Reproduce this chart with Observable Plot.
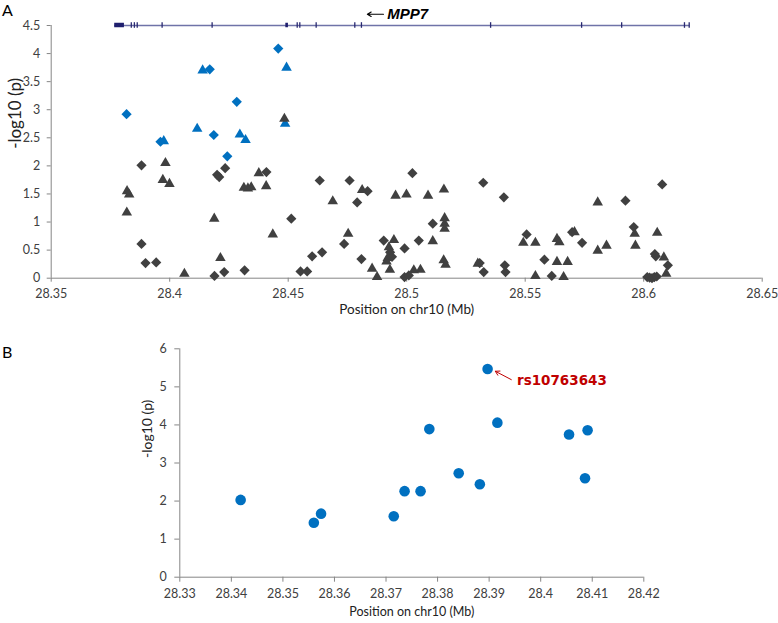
<!DOCTYPE html>
<html>
<head>
<meta charset="utf-8">
<script src="https://cdn.jsdelivr.net/npm/d3@7"></script>
<script src="https://cdn.jsdelivr.net/npm/@observablehq/plot@0.6"></script>
<style>
  html, body { margin: 0; padding: 0; background: #fff; }
  #wrap { position: relative; width: 778px; height: 623px; overflow: hidden; background: #fff; font-family: Lato, "Open Sans", sans-serif; }
  .panel { position: absolute; left: 0; }
  .letter { position: absolute; font-family: Lato, sans-serif; font-size: 16px; color: #000; line-height: 20px; }
  svg { overflow: visible; }
</style>
</head>
<body>
<div id="wrap">
  <div class="letter" style="left:2px; top:0px;">A</div>
  <div class="letter" style="left:2px; top:342px;">B</div>
  <div id="pa" class="panel" style="top:0px;"></div>
  <div id="pb" class="panel" style="top:320px;"></div>
</div>
<script>
// ---------------- Panel A data ----------------
const blueDiamonds = [[28.3818,2.92],[28.4458,4.09],[28.4169,3.72],[28.4283,3.14],[28.4186,2.55],[28.3961,2.43],[28.4243,2.17]];
const blueTriangles = [[28.4139,3.70],[28.4116,2.66],[28.4493,3.75],[28.4487,2.75],[28.4296,2.56],[28.4320,2.46],[28.3975,2.44]];
const blackDiamonds = [
  [28.3881,2.01],[28.4200,1.84],[28.4209,1.80],[28.4234,1.96],[28.4408,1.89],[28.3881,0.61],[28.3898,0.27],
  [28.3943,0.28],[28.4189,0.04],[28.4230,0.11],[28.4316,0.14],[28.4633,1.74],[28.4759,1.74],[28.5024,1.87],
  [28.4791,1.35],[28.4835,1.55],[28.4513,1.06],[28.4736,0.61],[28.4601,0.39],[28.4643,0.46],[28.4552,0.12],
  [28.4580,0.12],[28.4809,0.34],[28.4903,0.67],[28.4930,0.46],[28.4938,0.38],[28.4991,0.53],[28.5051,0.67],
  [28.4991,0.02],[28.5009,0.05],[28.5323,1.70],[28.5410,1.44],[28.5110,0.97],[28.5308,0.27],[28.5325,0.11],
  [28.5414,0.23],[28.5417,0.11],[28.5506,0.78],[28.5581,0.33],[28.5612,0.04],[28.5698,0.82],[28.5740,0.63],
  [28.5923,1.38],[28.6078,1.67],[28.5958,0.91],[28.6047,0.43],[28.6051,0.39],[28.6102,0.23],
  [28.6015,0.02],[28.6025,0.01],[28.6035,0.00],[28.6045,0.02],[28.6055,0.03]
];
const blackTriangles = [
  [28.4484,2.84],[28.3982,2.05],[28.3971,1.75],[28.3999,1.68],[28.3820,1.55],[28.3829,1.49],[28.3819,1.17],
  [28.4376,1.87],[28.4313,1.61],[28.4330,1.60],[28.4344,1.62],[28.4407,1.64],[28.4188,1.06],[28.4062,0.08],
  [28.4214,0.36],[28.4435,0.78],[28.4688,1.37],[28.4812,1.57],[28.4953,1.47],[28.4999,1.49],[28.5090,1.47],
  [28.5157,1.58],[28.4753,0.79],[28.4854,0.17],[28.4875,0.02],[28.4946,0.68],[28.4925,0.55],[28.4920,0.36],
  [28.4915,0.30],[28.4929,0.15],[28.5058,0.15],[28.5030,0.14],[28.5160,1.07],[28.5160,0.97],[28.5160,0.88],
  [28.5110,0.66],[28.5156,0.32],[28.5164,0.24],[28.5300,0.26],[28.5492,0.63],[28.5543,0.63],[28.5543,0.04],
  [28.5662,0.02],[28.5634,0.70],[28.5644,0.64],[28.5634,0.29],[28.5679,0.29],[28.5708,0.82],[28.5806,1.35],
  [28.5806,0.49],[28.5843,0.58],[28.5962,0.79],[28.5965,0.58],[28.6057,0.81],[28.6085,0.37],[28.6095,0.08]
];
const xTicksA = [28.35, 28.4, 28.45, 28.5, 28.55, 28.6, 28.65];
const yTicksA = [0, 0.5, 1, 1.5, 2, 2.5, 3, 3.5, 4, 4.5];
// gene track (MPP7) at the top of panel A
const geneSpan = [[28.3768, 28.6195, 4.5]];
const geneExons = [28.3838, 28.3851, 28.3863, 28.3968, 28.4179, 28.4538, 28.4549, 28.4618, 28.4781, 28.4809, 28.5354, 28.5738, 28.5907, 28.6172, 28.6192];
const geneBlocks = [[28.3768, 28.3809], [28.4490, 28.4501]];
const geneArrow = [[28.4902, 28.4834, 4.70]];
const geneLabel = [[28.4918, 4.70, "MPP7"]];

// ---------------- Panel B data ----------------
const pointsB = [
  [28.3418,2.03],[28.3560,1.43],[28.3574,1.67],[28.3715,1.60],[28.3736,2.26],[28.3767,2.26],[28.3784,3.89],
  [28.3841,2.73],[28.3882,2.44],[28.3897,5.47],[28.3916,4.06],[28.4055,3.75],[28.4086,2.60],[28.4091,3.86]
];
const xTicksB = [28.33, 28.34, 28.35, 28.36, 28.37, 28.38, 28.39, 28.4, 28.41, 28.42];
const yTicksB = [0, 1, 2, 3, 4, 5, 6];
const annotArrow = [[28.3943, 5.19, 28.3912, 5.41]];
const annotLabel = [[28.3954, 5.17, "rs10763643"]];

const fmt = d => String(+d.toFixed(2));
const AX = "#868686", TXT = "#404040", BLUE = "#0070c0", DARK = "#404040";

const chartA = Plot.plot({
  width: 778, height: 320,
  marginLeft: 50.7, marginRight: 16.3, marginTop: 25, marginBottom: 42.3,
  x: {domain: [28.35, 28.65]},
  y: {domain: [0, 4.5]},
  style: {fontFamily: "Lato, sans-serif", fontSize: "12.5px", background: "transparent", overflow: "visible"},
  marks: [
    Plot.ruleX([28.35], {stroke: AX}),
    Plot.ruleY([0], {stroke: AX}),
    Plot.axisX({ticks: xTicksA, tickFormat: fmt, tickSize: 4, tickPadding: 7, stroke: AX, fill: TXT, label: null}),
    Plot.axisY({ticks: yTicksA, tickFormat: fmt, tickSize: 4, tickPadding: 7, stroke: AX, fill: TXT, label: null}),
    Plot.text(["Position on chr10 (Mb)"], {frameAnchor: "bottom", dy: 36, fontSize: 13.5, fill: "#222"}),
    Plot.text(["-log10 (p)"], {frameAnchor: "left", dx: -35.7, dy: -3, rotate: -90, fontSize: 17, fill: "#222"}),
    // gene track
    Plot.ruleY(geneSpan, {x1: d => d[0], x2: d => d[1], y: d => d[2], stroke: "#6f73a8", strokeWidth: 1.6}),
    Plot.ruleX(geneExons, {x: d => d, y1: 4.45, y2: 4.55, stroke: "#2a2a72", strokeWidth: 1.3}),
    Plot.rect(geneBlocks, {x1: d => d[0], x2: d => d[1], y1: 4.46, y2: 4.54, fill: "#1f1f6e"}),
    Plot.arrow(geneArrow, {x1: d => d[0], x2: d => d[1], y1: d => d[2], y2: d => d[2], stroke: "#000", strokeWidth: 1.1, headLength: 6}),
    Plot.text(geneLabel, {x: d => d[0], y: d => d[1], text: d => d[2], textAnchor: "start", fontSize: 15, fontStyle: "italic", fontWeight: "bold", fontFamily: "Liberation Sans, Arial, sans-serif", fill: "#000", letterSpacing: "0.8px"}),
    // points
    Plot.dot(blueDiamonds, {x: d => d[0], y: d => d[1], symbol: "diamond2", r: 4.6, fill: BLUE, stroke: "none"}),
    Plot.dot(blueTriangles, {x: d => d[0], y: d => d[1], symbol: "triangle", r: 3.9, fill: BLUE, stroke: "none"}),
    Plot.dot(blackDiamonds, {x: d => d[0], y: d => d[1], symbol: "diamond2", r: 4.6, fill: DARK, stroke: "none"}),
    Plot.dot(blackTriangles, {x: d => d[0], y: d => d[1], symbol: "triangle", r: 3.9, fill: DARK, stroke: "none"})
  ]
});
document.getElementById("pa").appendChild(chartA);

const chartB = Plot.plot({
  width: 778, height: 303,
  marginLeft: 179.3, marginRight: 134.7, marginTop: 28.3, marginBottom: 46.3,
  x: {domain: [28.33, 28.42]},
  y: {domain: [0, 6]},
  style: {fontFamily: "Lato, sans-serif", fontSize: "12.5px", background: "transparent", overflow: "visible"},
  marks: [
    Plot.ruleX([28.33], {stroke: AX}),
    Plot.ruleY([0], {stroke: AX}),
    Plot.axisX({ticks: xTicksB, tickFormat: fmt, tickSize: 5, tickPadding: 7, stroke: AX, fill: TXT, label: null}),
    Plot.axisY({ticks: yTicksB, tickFormat: fmt, tickSize: 5, tickPadding: 8, stroke: AX, fill: TXT, label: null}),
    Plot.text(["Position on chr10 (Mb)"], {frameAnchor: "bottom", dy: 39, fontSize: 12.5, fill: "#222"}),
    Plot.text(["-log10 (p)"], {frameAnchor: "left", dx: -32.6, dy: -5, rotate: -90, fontSize: 14, fill: "#222"}),
    Plot.dot(pointsB, {x: d => d[0], y: d => d[1], r: 5.3, fill: BLUE, stroke: "none"}),
    Plot.arrow(annotArrow, {x1: d => d[0], y1: d => d[1], x2: d => d[2], y2: d => d[3], stroke: "#c00000", strokeWidth: 1, headLength: 7}),
    Plot.text(annotLabel, {x: d => d[0], y: d => d[1], text: d => d[2], textAnchor: "start", fontSize: 13.5, fontWeight: "bold", fontFamily: "DejaVu Sans, sans-serif", fill: "#c00000"})
  ]
});
document.getElementById("pb").appendChild(chartB);
</script>
</body>
</html>
